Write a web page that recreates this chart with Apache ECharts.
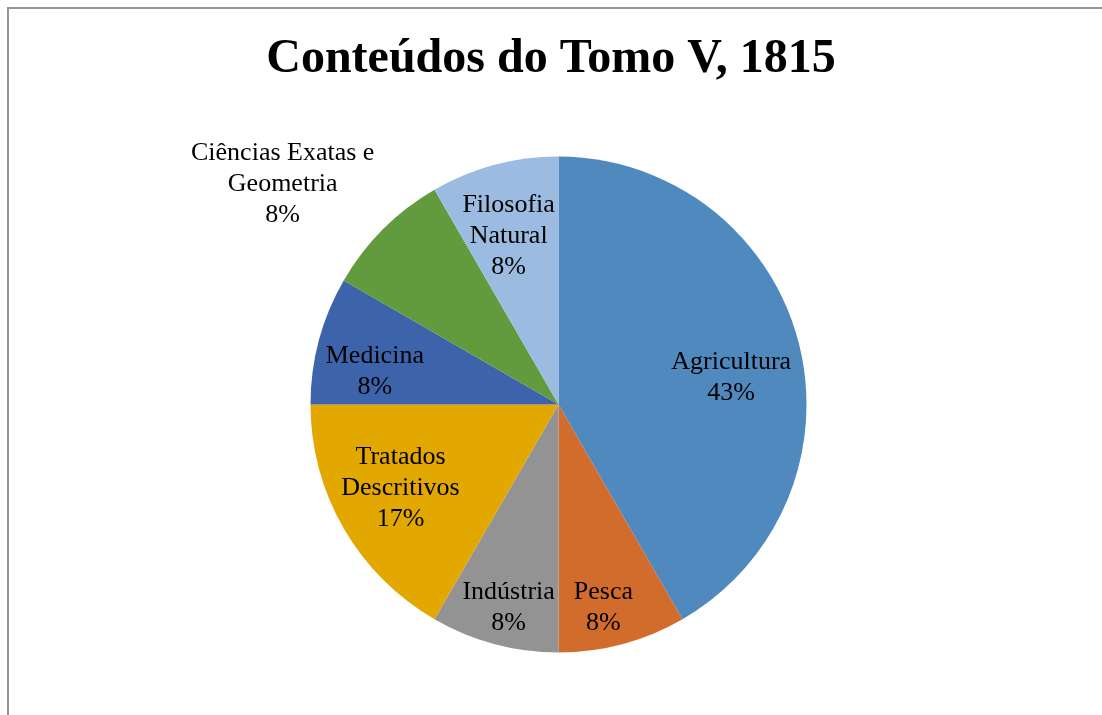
<!DOCTYPE html>
<html>
<head>
<meta charset="utf-8">
<script src="https://cdn.jsdelivr.net/npm/echarts@6/dist/echarts.min.js"></script>
<style>
html,body{margin:0;padding:0;background:#fff;}
#chart{width:1102px;height:715px;position:relative;}
#frame{position:absolute;left:7px;top:7px;right:-10px;bottom:-10px;border:2px solid #969696;pointer-events:none;}
</style>
</head>
<body>
<div id="chart"></div>
<div id="frame"></div>
<script>
var categories = ['Agricultura', 'Pesca', 'Indústria', 'Tratados\nDescritivos', 'Medicina', 'Ciências Exatas e\nGeometria', 'Filosofia\nNatural'];
var counts = [5, 1, 1, 2, 1, 1, 1];
var pctLabels = ['43%', '8%', '8%', '17%', '8%', '8%', '8%'];
var colors = ['#4F89BE', '#D26C2C', '#939393', '#E2A800', '#3D64AB', '#629A3E', '#9BBBE0'];
// label nudges so they sit where Excel put them
var labelShift = [[50, 6], [12, 80], [-17, 80], [-48, 20], [-61, 0], [-186, -131], [-17, -46]];

var myChart = echarts.init(document.getElementById('chart'));
var seriesData = categories.map(function (c, i) {
    return {
        name: c,
        value: counts[i],
        itemStyle: {color: colors[i]}
    };
});
var option = {
    animation: false,
    title: {
        text: 'Conteúdos do Tomo V, 1815',
        left: 'center',
        top: 31,
        textStyle: {
            fontFamily: 'Liberation Serif',
            fontWeight: 'bold',
            fontSize: 48,
            color: '#000'
        }
    },
    series: [
        {
            type: 'pie',
            center: [558.5, 404.5],
            radius: 248,
            startAngle: 90,
            clockwise: true,
            data: seriesData,
            itemStyle: {borderWidth: 0},
            label: {
                show: true,
                position: 'inside',
                fontFamily: 'Liberation Serif',
                fontSize: 26,
                lineHeight: 31,
                color: '#000',
                align: 'center',
                formatter: function (p) {
                    return p.name + '\n' + pctLabels[p.dataIndex];
                }
            },
            labelLine: {show: false},
            labelLayout: function (p) {
                return {dx: labelShift[p.dataIndex][0], dy: labelShift[p.dataIndex][1]};
            },
            emphasis: {disabled: true}
        }
    ]
};
myChart.setOption(option);
window.onresize = myChart.resize;
</script>
</body>
</html>
